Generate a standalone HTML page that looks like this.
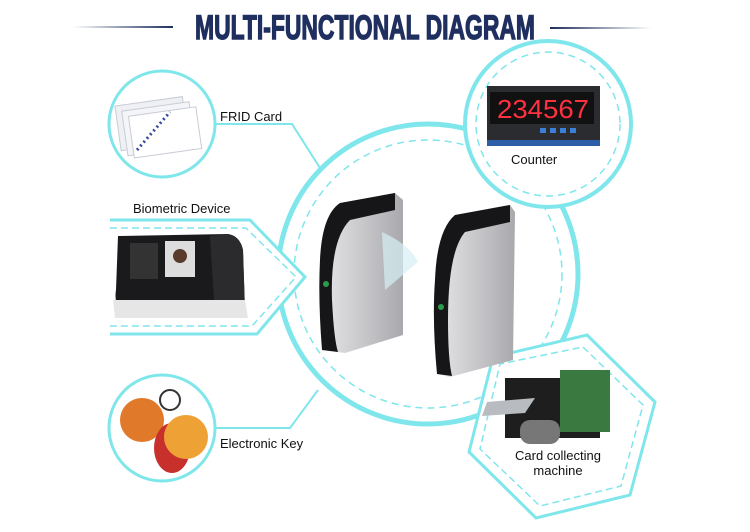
<!DOCTYPE html>
<html><head><meta charset="utf-8"><style>
html,body{margin:0;padding:0;background:#fff;}
svg{display:block}
text{font-family:"Liberation Sans",sans-serif;}
</style></head><body>
<svg width="750" height="532" viewBox="0 0 750 532" xmlns="http://www.w3.org/2000/svg">
<defs>
<linearGradient id="gl" x1="0" x2="1"><stop offset="0" stop-color="#fff"/><stop offset="1" stop-color="#1e2f5e"/></linearGradient>
<linearGradient id="gr" x1="0" x2="1"><stop offset="0" stop-color="#1e2f5e"/><stop offset="1" stop-color="#fff"/></linearGradient>
<linearGradient id="metal" x1="0" x2="1"><stop offset="0" stop-color="#e8e8ea"/><stop offset="0.5" stop-color="#c9c9cc"/><stop offset="1" stop-color="#a9a9ad"/></linearGradient>
</defs>
<rect width="750" height="532" fill="#fff"/>
<!-- title -->
<rect x="73" y="26" width="100" height="2" fill="url(#gl)"/>
<rect x="550" y="27" width="101" height="2" fill="url(#gr)"/>
<text x="195" y="30" font-size="34" font-weight="bold" fill="#1f2f5f" stroke="#1f2f5f" stroke-width="1.4" textLength="340" lengthAdjust="spacingAndGlyphs" dominant-baseline="middle" style="font-family:'Liberation Sans Narrow','Liberation Sans',sans-serif">MULTI-FUNCTIONAL DIAGRAM</text>

<g fill="none" stroke="#7fe6ec">
<circle cx="428" cy="274" r="150" stroke-width="5"/>
<circle cx="428" cy="274" r="134" stroke-width="1.5" stroke-dasharray="7 5"/>
<circle cx="162" cy="124" r="53" stroke-width="3" fill="#fff"/>
<polyline points="215,124 292,124 320,168" stroke-width="2"/>
<circle cx="548" cy="124" r="83" stroke-width="4" fill="#fff"/>
<circle cx="548" cy="124" r="72" stroke-width="1.5" stroke-dasharray="7 5"/>
<polyline points="110,220 250,220 305,277 257,334 110,334" stroke-width="3" fill="#fff"/>
<polyline points="110,228 246,228 296,277 252,326 110,326" stroke-width="1.5" stroke-dasharray="7 4"/>
<circle cx="162" cy="428" r="53" stroke-width="3" fill="#fff"/>
<polyline points="215,428 290,428 318,390" stroke-width="2"/>
<polygon points="587,335 655,402 630,495 536,518 469,452 493,357" stroke-width="3" fill="#fff"/>
<polygon points="583,347 643,405 621,486 540,506 480,449 500,364" stroke-width="1.5" stroke-dasharray="7 4"/>
</g>

<g>
<g transform="rotate(-8 160 125)">
<rect x="118" y="100" width="68" height="45" fill="#eef0f4" stroke="#c8ccd4"/>
<rect x="124" y="106" width="68" height="45" fill="#f4f5f8" stroke="#c8ccd4"/>
<rect x="130" y="112" width="68" height="42" fill="#fff" stroke="#c8ccd4"/>
</g>
<line x1="137" y1="150" x2="170" y2="112" stroke="#3a4a9a" stroke-width="3" stroke-dasharray="2 3"/>
</g>
<text x="220" y="121" font-size="13" fill="#111">FRID Card</text>

<rect x="487" y="86" width="113" height="60" fill="#2a2c30"/>
<rect x="490" y="92" width="104" height="32" fill="#111"/>
<text x="497" y="118" font-size="26" fill="#ff3040" font-family="Liberation Mono" textLength="92" lengthAdjust="spacingAndGlyphs">234567</text>
<rect x="540" y="128" width="6" height="5" fill="#3b7fd6"/><rect x="550" y="128" width="6" height="5" fill="#3b7fd6"/><rect x="560" y="128" width="6" height="5" fill="#3b7fd6"/><rect x="570" y="128" width="6" height="5" fill="#3b7fd6"/>
<rect x="487" y="140" width="113" height="6" fill="#2d5fa8"/>
<text x="511" y="164" font-size="13" fill="#111">Counter</text>

<text x="133" y="213" font-size="13" fill="#111">Biometric Device</text>
<path d="M118,236 L228,234 Q240,236 243,250 L245,310 L120,316 Q114,300 116,290 Z" fill="#1a1a1c"/>
<path d="M210,236 L228,234 Q240,236 243,250 L245,312 L215,316 Z" fill="#2b2b2e"/>
<path d="M113,300 L245,300 L248,318 L115,318 Z" fill="#e6e6e6"/>
<rect x="165" y="241" width="30" height="36" fill="#ddd"/>
<circle cx="180" cy="256" r="7" fill="#5a3a2a"/>
<rect x="130" y="243" width="28" height="36" fill="#333"/>

<circle cx="142" cy="420" r="22" fill="#e0792a"/>
<ellipse cx="172" cy="448" rx="18" ry="25" fill="#c8302c"/>
<circle cx="186" cy="437" r="22" fill="#eea236"/>
<circle cx="170" cy="400" r="10" fill="none" stroke="#333" stroke-width="2"/>
<text x="220" y="448" font-size="13" fill="#111">Electronic Key</text>

<rect x="505" y="378" width="95" height="60" fill="#1e1e1e"/>
<rect x="560" y="370" width="50" height="62" fill="#3a7a40"/>
<polygon points="487,402 535,398 525,413 482,416" fill="#b8bcc0"/>
<rect x="520" y="420" width="40" height="24" rx="10" fill="#777"/>
<text x="558" y="460" font-size="13" fill="#111" text-anchor="middle">Card collecting</text>
<text x="558" y="475" font-size="13" fill="#111" text-anchor="middle">machine</text>

<path d="M340,203 L395,193 L403,200 L403,335 L345,353 L322,350 Q318,300 320,260 Q322,215 340,203 Z" fill="url(#metal)"/>
<path d="M340,203 L395,193 L395,210 L350,220 Q330,240 332,300 Q334,340 338,352 L322,350 Q318,300 320,260 Q322,215 340,203 Z" fill="#161618"/>
<path d="M382,232 Q410,245 418,262 L385,290 Z" fill="#d5f0f3" opacity="0.7"/>
<path d="M455,215 L510,205 L515,212 L513,360 L450,377 L437,374 Q432,320 435,280 Q437,230 455,215 Z" fill="url(#metal)"/>
<path d="M455,215 L510,205 L510,222 L465,232 Q448,252 448,320 Q448,360 452,376 L437,374 Q432,320 435,280 Q437,230 455,215 Z" fill="#161618"/>
<circle cx="326" cy="284" r="3" fill="#2c9a4a"/>
<circle cx="441" cy="307" r="3" fill="#2c9a4a"/>
</svg>
</body></html>
